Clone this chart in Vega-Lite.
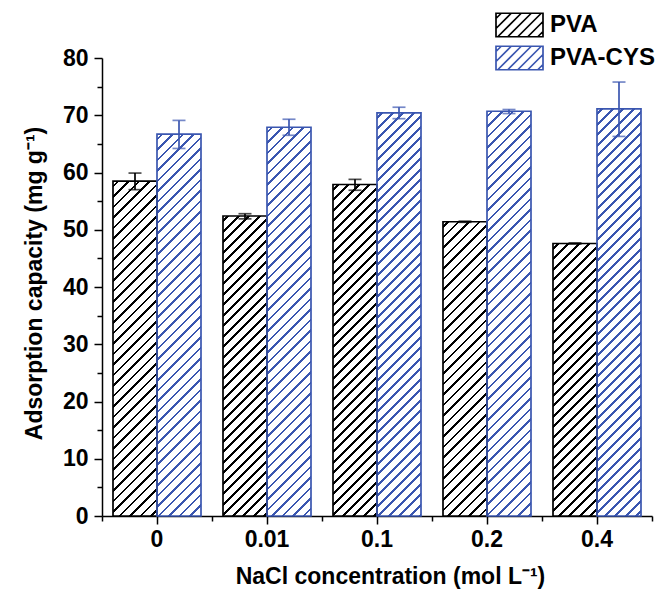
{
  "$schema": "https://vega.github.io/schema/vega-lite/v6.json",
  "width": 550,
  "height": 458,
  "autosize": "none",
  "padding": {"left": 102, "top": 58, "right": 13, "bottom": 74},
  "background": "white",
  "config": {
    "view": {"stroke": null},
    "font": "Liberation Sans",
    "axis": {
      "grid": false,
      "domainColor": "#000000",
      "domainWidth": 1.5,
      "tickColor": "#000000",
      "tickWidth": 1.5,
      "labelColor": "#000000",
      "titleColor": "#000000",
      "labelFont": "Liberation Sans",
      "titleFont": "Liberation Sans",
      "labelFontWeight": "bold",
      "titleFontWeight": "bold"
    }
  },
  "params": [
    {
      "name": "hatchStops",
      "value": [
        {"offset": 0.0075, "color": "#fff"}, {"offset": 0.0075, "color": "#fff0"}, {"offset": 0.0125, "color": "#fff0"}, {"offset": 0.0125, "color": "#fff"},
        {"offset": 0.0275, "color": "#fff"}, {"offset": 0.0275, "color": "#fff0"}, {"offset": 0.0325, "color": "#fff0"}, {"offset": 0.0325, "color": "#fff"},
        {"offset": 0.0475, "color": "#fff"}, {"offset": 0.0475, "color": "#fff0"}, {"offset": 0.0525, "color": "#fff0"}, {"offset": 0.0525, "color": "#fff"},
        {"offset": 0.0675, "color": "#fff"}, {"offset": 0.0675, "color": "#fff0"}, {"offset": 0.0725, "color": "#fff0"}, {"offset": 0.0725, "color": "#fff"},
        {"offset": 0.0875, "color": "#fff"}, {"offset": 0.0875, "color": "#fff0"}, {"offset": 0.0925, "color": "#fff0"}, {"offset": 0.0925, "color": "#fff"},
        {"offset": 0.1075, "color": "#fff"}, {"offset": 0.1075, "color": "#fff0"}, {"offset": 0.1125, "color": "#fff0"}, {"offset": 0.1125, "color": "#fff"},
        {"offset": 0.1275, "color": "#fff"}, {"offset": 0.1275, "color": "#fff0"}, {"offset": 0.1325, "color": "#fff0"}, {"offset": 0.1325, "color": "#fff"},
        {"offset": 0.1475, "color": "#fff"}, {"offset": 0.1475, "color": "#fff0"}, {"offset": 0.1525, "color": "#fff0"}, {"offset": 0.1525, "color": "#fff"},
        {"offset": 0.1675, "color": "#fff"}, {"offset": 0.1675, "color": "#fff0"}, {"offset": 0.1725, "color": "#fff0"}, {"offset": 0.1725, "color": "#fff"},
        {"offset": 0.1875, "color": "#fff"}, {"offset": 0.1875, "color": "#fff0"}, {"offset": 0.1925, "color": "#fff0"}, {"offset": 0.1925, "color": "#fff"},
        {"offset": 0.2075, "color": "#fff"}, {"offset": 0.2075, "color": "#fff0"}, {"offset": 0.2125, "color": "#fff0"}, {"offset": 0.2125, "color": "#fff"},
        {"offset": 0.2275, "color": "#fff"}, {"offset": 0.2275, "color": "#fff0"}, {"offset": 0.2325, "color": "#fff0"}, {"offset": 0.2325, "color": "#fff"},
        {"offset": 0.2475, "color": "#fff"}, {"offset": 0.2475, "color": "#fff0"}, {"offset": 0.2525, "color": "#fff0"}, {"offset": 0.2525, "color": "#fff"},
        {"offset": 0.2675, "color": "#fff"}, {"offset": 0.2675, "color": "#fff0"}, {"offset": 0.2725, "color": "#fff0"}, {"offset": 0.2725, "color": "#fff"},
        {"offset": 0.2875, "color": "#fff"}, {"offset": 0.2875, "color": "#fff0"}, {"offset": 0.2925, "color": "#fff0"}, {"offset": 0.2925, "color": "#fff"},
        {"offset": 0.3075, "color": "#fff"}, {"offset": 0.3075, "color": "#fff0"}, {"offset": 0.3125, "color": "#fff0"}, {"offset": 0.3125, "color": "#fff"},
        {"offset": 0.3275, "color": "#fff"}, {"offset": 0.3275, "color": "#fff0"}, {"offset": 0.3325, "color": "#fff0"}, {"offset": 0.3325, "color": "#fff"},
        {"offset": 0.3475, "color": "#fff"}, {"offset": 0.3475, "color": "#fff0"}, {"offset": 0.3525, "color": "#fff0"}, {"offset": 0.3525, "color": "#fff"},
        {"offset": 0.3675, "color": "#fff"}, {"offset": 0.3675, "color": "#fff0"}, {"offset": 0.3725, "color": "#fff0"}, {"offset": 0.3725, "color": "#fff"},
        {"offset": 0.3875, "color": "#fff"}, {"offset": 0.3875, "color": "#fff0"}, {"offset": 0.3925, "color": "#fff0"}, {"offset": 0.3925, "color": "#fff"},
        {"offset": 0.4075, "color": "#fff"}, {"offset": 0.4075, "color": "#fff0"}, {"offset": 0.4125, "color": "#fff0"}, {"offset": 0.4125, "color": "#fff"},
        {"offset": 0.4275, "color": "#fff"}, {"offset": 0.4275, "color": "#fff0"}, {"offset": 0.4325, "color": "#fff0"}, {"offset": 0.4325, "color": "#fff"},
        {"offset": 0.4475, "color": "#fff"}, {"offset": 0.4475, "color": "#fff0"}, {"offset": 0.4525, "color": "#fff0"}, {"offset": 0.4525, "color": "#fff"},
        {"offset": 0.4675, "color": "#fff"}, {"offset": 0.4675, "color": "#fff0"}, {"offset": 0.4725, "color": "#fff0"}, {"offset": 0.4725, "color": "#fff"},
        {"offset": 0.4875, "color": "#fff"}, {"offset": 0.4875, "color": "#fff0"}, {"offset": 0.4925, "color": "#fff0"}, {"offset": 0.4925, "color": "#fff"},
        {"offset": 0.5075, "color": "#fff"}, {"offset": 0.5075, "color": "#fff0"}, {"offset": 0.5125, "color": "#fff0"}, {"offset": 0.5125, "color": "#fff"},
        {"offset": 0.5275, "color": "#fff"}, {"offset": 0.5275, "color": "#fff0"}, {"offset": 0.5325, "color": "#fff0"}, {"offset": 0.5325, "color": "#fff"},
        {"offset": 0.5475, "color": "#fff"}, {"offset": 0.5475, "color": "#fff0"}, {"offset": 0.5525, "color": "#fff0"}, {"offset": 0.5525, "color": "#fff"},
        {"offset": 0.5675, "color": "#fff"}, {"offset": 0.5675, "color": "#fff0"}, {"offset": 0.5725, "color": "#fff0"}, {"offset": 0.5725, "color": "#fff"},
        {"offset": 0.5875, "color": "#fff"}, {"offset": 0.5875, "color": "#fff0"}, {"offset": 0.5925, "color": "#fff0"}, {"offset": 0.5925, "color": "#fff"},
        {"offset": 0.6075, "color": "#fff"}, {"offset": 0.6075, "color": "#fff0"}, {"offset": 0.6125, "color": "#fff0"}, {"offset": 0.6125, "color": "#fff"},
        {"offset": 0.6275, "color": "#fff"}, {"offset": 0.6275, "color": "#fff0"}, {"offset": 0.6325, "color": "#fff0"}, {"offset": 0.6325, "color": "#fff"},
        {"offset": 0.6475, "color": "#fff"}, {"offset": 0.6475, "color": "#fff0"}, {"offset": 0.6525, "color": "#fff0"}, {"offset": 0.6525, "color": "#fff"},
        {"offset": 0.6675, "color": "#fff"}, {"offset": 0.6675, "color": "#fff0"}, {"offset": 0.6725, "color": "#fff0"}, {"offset": 0.6725, "color": "#fff"},
        {"offset": 0.6875, "color": "#fff"}, {"offset": 0.6875, "color": "#fff0"}, {"offset": 0.6925, "color": "#fff0"}, {"offset": 0.6925, "color": "#fff"},
        {"offset": 0.7075, "color": "#fff"}, {"offset": 0.7075, "color": "#fff0"}, {"offset": 0.7125, "color": "#fff0"}, {"offset": 0.7125, "color": "#fff"},
        {"offset": 0.7275, "color": "#fff"}, {"offset": 0.7275, "color": "#fff0"}, {"offset": 0.7325, "color": "#fff0"}, {"offset": 0.7325, "color": "#fff"},
        {"offset": 0.7475, "color": "#fff"}, {"offset": 0.7475, "color": "#fff0"}, {"offset": 0.7525, "color": "#fff0"}, {"offset": 0.7525, "color": "#fff"},
        {"offset": 0.7675, "color": "#fff"}, {"offset": 0.7675, "color": "#fff0"}, {"offset": 0.7725, "color": "#fff0"}, {"offset": 0.7725, "color": "#fff"},
        {"offset": 0.7875, "color": "#fff"}, {"offset": 0.7875, "color": "#fff0"}, {"offset": 0.7925, "color": "#fff0"}, {"offset": 0.7925, "color": "#fff"},
        {"offset": 0.8075, "color": "#fff"}, {"offset": 0.8075, "color": "#fff0"}, {"offset": 0.8125, "color": "#fff0"}, {"offset": 0.8125, "color": "#fff"},
        {"offset": 0.8275, "color": "#fff"}, {"offset": 0.8275, "color": "#fff0"}, {"offset": 0.8325, "color": "#fff0"}, {"offset": 0.8325, "color": "#fff"},
        {"offset": 0.8475, "color": "#fff"}, {"offset": 0.8475, "color": "#fff0"}, {"offset": 0.8525, "color": "#fff0"}, {"offset": 0.8525, "color": "#fff"},
        {"offset": 0.8675, "color": "#fff"}, {"offset": 0.8675, "color": "#fff0"}, {"offset": 0.8725, "color": "#fff0"}, {"offset": 0.8725, "color": "#fff"}
      ]
    }
  ],
  "data": {
    "values": [
      {"conc": "0", "series": "PVA", "value": 58.5, "lo": 57.0, "hi": 59.9},
      {"conc": "0", "series": "PVA-CYS", "value": 66.7, "lo": 64.2, "hi": 69.1},
      {"conc": "0.01", "series": "PVA", "value": 52.4, "lo": 51.9, "hi": 52.8},
      {"conc": "0.01", "series": "PVA-CYS", "value": 67.9, "lo": 66.5, "hi": 69.3},
      {"conc": "0.1", "series": "PVA", "value": 57.9, "lo": 56.9, "hi": 58.8},
      {"conc": "0.1", "series": "PVA-CYS", "value": 70.4, "lo": 69.4, "hi": 71.4},
      {"conc": "0.2", "series": "PVA", "value": 51.4, "lo": 51.3, "hi": 51.5},
      {"conc": "0.2", "series": "PVA-CYS", "value": 70.7, "lo": 70.3, "hi": 71.0},
      {"conc": "0.4", "series": "PVA", "value": 47.6, "lo": 47.5, "hi": 47.7},
      {"conc": "0.4", "series": "PVA-CYS", "value": 71.1, "lo": 66.3, "hi": 75.8}
    ]
  },
  "layer": [
    {
      "mark": {"type": "bar"},
      "encoding": {
        "x": {
          "field": "conc", "type": "nominal", "sort": null,
          "scale": {"paddingInner": 0, "paddingOuter": 0},
          "axis": {
            "orient": "bottom", "title": "NaCl concentration (mol L⁻¹)", "labelAngle": 0,
            "labelFontSize": 23, "labelPadding": 4, "tickSize": 8,
            "titleFontSize": 23, "titlePadding": 14, "titleX": 288
          }
        },
        "xOffset": {"field": "series", "type": "nominal", "scale": {"paddingInner": 0, "paddingOuter": 0.25}},
        "y": {
          "field": "value", "type": "quantitative",
          "scale": {"domain": [0, 80], "nice": false},
          "axis": {
            "orient": "left", "values": [0, 10, 20, 30, 40, 50, 60, 70, 80],
            "title": "Adsorption capacity (mg g⁻¹)",
            "labelFontSize": 23, "labelPadding": 6, "tickSize": 8,
            "titleFontSize": 23, "titlePadding": 16, "titleY": 225
          }
        },
        "fill": {"condition": {"test": "datum.series === 'PVA'", "value": "#000000"}, "value": "#3A56B0"}
      }
    },
    {
      "mark": {
        "type": "bar",
        "fill": {"expr": "{gradient: 'linear', x1: 0, y1: 0, x2: 44 * 525 / (1936 + pow(scale('y', 0) - scale('y', datum.value), 2)), y2: (scale('y', 0) - scale('y', datum.value)) * 525 / (1936 + pow(scale('y', 0) - scale('y', datum.value), 2)), stops: hatchStops}"}
      },
      "encoding": {
        "x": {
          "field": "conc", "type": "nominal", "sort": null,
          "scale": {"paddingInner": 0, "paddingOuter": 0},
          "axis": {"orient": "bottom", "tickBand": "extent", "labels": false, "domain": false, "title": null, "tickSize": 5}
        },
        "xOffset": {"field": "series", "type": "nominal", "scale": {"paddingInner": 0, "paddingOuter": 0.25}},
        "y": {
          "field": "value", "type": "quantitative",
          "scale": {"domain": [0, 80], "nice": false},
          "axis": {"orient": "left", "values": [5, 15, 25, 35, 45, 55, 65, 75], "labels": false, "domain": false, "title": null, "tickSize": 5}
        }
      }
    },
    {
      "mark": {"type": "bar", "fill": "transparent", "strokeWidth": 1.7},
      "encoding": {
        "x": {"field": "conc", "type": "nominal", "sort": null, "scale": {"paddingInner": 0, "paddingOuter": 0}, "axis": null},
        "xOffset": {"field": "series", "type": "nominal", "scale": {"paddingInner": 0, "paddingOuter": 0.25}},
        "y": {"field": "value", "type": "quantitative", "scale": {"domain": [0, 80], "nice": false}, "axis": null},
        "stroke": {
          "field": "series", "type": "nominal",
          "scale": {"domain": ["PVA", "PVA-CYS"], "range": ["#000000", "#3A56B0"]},
          "legend": {
            "title": null, "orient": "none", "legendX": 393, "legendY": -46,
            "padding": 0, "offset": 0, "rowPadding": 7, "clipHeight": 26,
            "symbolType": "M-1,-0.5H1V0.5H-1Z M-1,-0.277L-0.777,-0.5 M-1,0.149L-0.351,-0.5 M-0.926,0.5L0.074,-0.5 M-0.5,0.5L0.5,-0.5 M-0.074,0.5L0.926,-0.5 M0.351,0.5L1,-0.149 M0.777,0.5L1,0.277",
            "symbolSize": 2209, "symbolStrokeWidth": 1.7,
            "labelFont": "Liberation Sans", "labelFontSize": 24, "labelFontWeight": "bold", "labelColor": "#000000", "labelOffset": 6
          }
        }
      }
    },
    {
      "mark": {"type": "rule", "strokeWidth": 1.7},
      "encoding": {
        "x": {"field": "conc", "type": "nominal", "sort": null, "scale": {"paddingInner": 0, "paddingOuter": 0}, "axis": null},
        "xOffset": {"field": "series", "type": "nominal", "scale": {"paddingInner": 0, "paddingOuter": 0.25}},
        "y": {"field": "lo", "type": "quantitative", "scale": {"domain": [0, 80], "nice": false}, "axis": null},
        "y2": {"field": "hi"},
        "stroke": {"condition": {"test": "datum.series === 'PVA'", "value": "#000000"}, "value": "#3A56B0"}
      }
    },
    {
      "mark": {"type": "tick", "thickness": 1.7, "size": 13},
      "encoding": {
        "x": {"field": "conc", "type": "nominal", "sort": null, "scale": {"paddingInner": 0, "paddingOuter": 0}, "axis": null},
        "xOffset": {"field": "series", "type": "nominal", "scale": {"paddingInner": 0, "paddingOuter": 0.25}},
        "y": {"field": "hi", "type": "quantitative", "scale": {"domain": [0, 80], "nice": false}, "axis": null},
        "fill": {"condition": {"test": "datum.series === 'PVA'", "value": "#000000"}, "value": "#3A56B0"}
      }
    },
    {
      "mark": {"type": "tick", "thickness": 1.7, "size": 13},
      "encoding": {
        "x": {"field": "conc", "type": "nominal", "sort": null, "scale": {"paddingInner": 0, "paddingOuter": 0}, "axis": null},
        "xOffset": {"field": "series", "type": "nominal", "scale": {"paddingInner": 0, "paddingOuter": 0.25}},
        "y": {"field": "lo", "type": "quantitative", "scale": {"domain": [0, 80], "nice": false}, "axis": null},
        "fill": {"condition": {"test": "datum.series === 'PVA'", "value": "#000000"}, "value": "#3A56B0"}
      }
    }
  ],
  "resolve": {"axis": {"x": "independent", "y": "independent"}}
}
